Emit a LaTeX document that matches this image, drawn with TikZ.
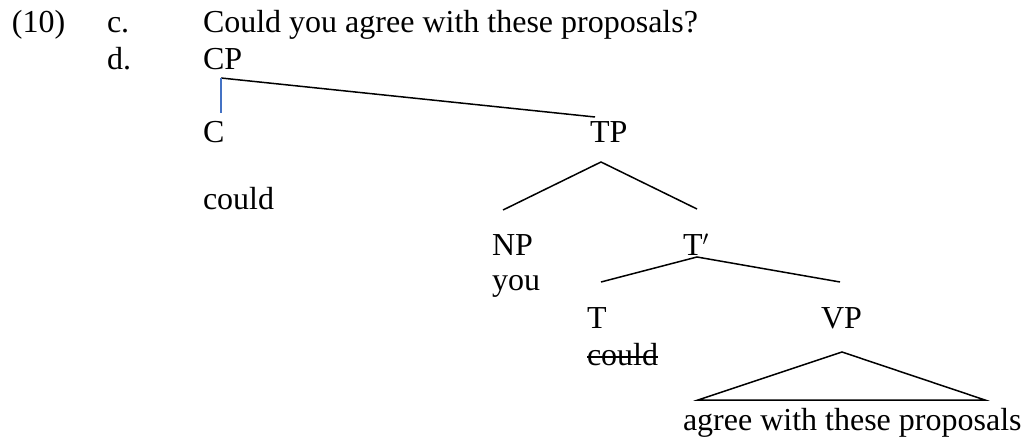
\documentclass[tikz,border=0pt]{standalone}
\usepackage{fontspec}
\setmainfont{Liberation Serif}
\usetikzlibrary{calc}
\begin{document}
\begin{tikzpicture}[x=1pt,y=-1pt,
  lbl/.style={anchor=base west,inner sep=0pt,outer sep=0pt,font=\fontsize{32}{38}\selectfont},
  branch/.style={line width=1.5pt,black},
  bluebranch/.style={line width=1.2pt,color={rgb,255:red,68;green,114;blue,196}}]
\useasboundingbox (0,0) rectangle (1024,446);
% example labels
\node[lbl] (num) at (12,33) {(10)};
\node[lbl] (lc) at (107,33) {c.};
\node[lbl] (sent) at (203,33) {Could you agree with these proposals?};
\node[lbl] (ld) at (107,70) {d.};
% tree labels
\node[lbl] (cp) at (203,70) {CP};
\node[lbl] (c) at (203,143) {C};
\node[lbl] (tp) at (590,143) {TP};
\node[lbl] (could) at (203,210) {could};
\node[lbl] (np) at (492,255) {NP};
\node[lbl] (tbar) at (683,255) {T$'$};
\node[lbl] (you) at (492,290) {you};
\node[lbl] (t) at (587,328) {T};
\node[lbl] (vp) at (821,328) {VP};
\node[lbl] (couldt) at (587,365) {could};
\node[lbl] (words) at (683,430) {agree with these proposals};
% junction coordinates
\coordinate (cpj) at (221,78);
\coordinate (cpr) at (595,117);
\coordinate (cpc) at (221,113);
\coordinate (tpj) at (601,162);
\coordinate (tpl) at (503,210);
\coordinate (tpr) at (697,209);
\coordinate (tbj) at (697,257);
\coordinate (tbl) at (601,282);
\coordinate (tbr) at (840,282);
\coordinate (vpj) at (842,352);
\coordinate (vpl) at (698,400);
\coordinate (vpr) at (985,400);
% connectors
\draw[branch] (cpj) -- (cpr);
\draw[bluebranch] (cpj) -- (cpc);
\draw[branch] (tpl) -- (tpj) -- (tpr);
\draw[branch] (tbl) -- (tbj) -- (tbr);
\draw[branch,line join=miter] (vpj) -- (vpl) -- (vpr) -- cycle;
% strikethrough
\draw[line width=1.5pt] ($(couldt.base west)+(0,-8)$) -- ($(couldt.base east)+(0,-8)$);
\end{tikzpicture}
\end{document}
